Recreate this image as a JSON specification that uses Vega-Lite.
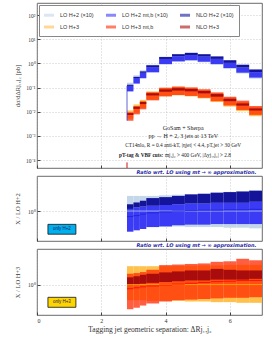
{
  "$schema": "https://vega.github.io/schema/vega-lite/v6.json",
  "padding": {"left": 13, "top": 2, "right": 4, "bottom": 2},
  "background": "white",
  "spacing": 0,
  "resolve": {"scale": {"fill": "independent"}, "legend": {"fill": "independent"}},
  "datasets": {
    "main": [
      {"series": "LO H+2 (×10)", "x0": 2.8, "x1": 3.0, "lo": 0.0784, "hi": 0.159},
      {"series": "LO H+2 (×10)", "x0": 3.0, "x1": 3.2, "lo": 0.1596, "hi": 0.324},
      {"series": "LO H+2 (×10)", "x0": 3.2, "x1": 3.4, "lo": 0.2576, "hi": 0.523},
      {"series": "LO H+2 (×10)", "x0": 3.4, "x1": 3.8, "lo": 0.434, "hi": 0.880},
      {"series": "LO H+2 (×10)", "x0": 3.8, "x1": 4.2, "lo": 0.931, "hi": 1.915},
      {"series": "LO H+2 (×10)", "x0": 4.2, "x1": 4.6, "lo": 1.183, "hi": 2.467},
      {"series": "LO H+2 (×10)", "x0": 4.6, "x1": 5.0, "lo": 1.283, "hi": 2.753},
      {"series": "LO H+2 (×10)", "x0": 5.0, "x1": 5.4, "lo": 1.111, "hi": 2.415},
      {"series": "LO H+2 (×10)", "x0": 5.4, "x1": 5.8, "lo": 0.876, "hi": 1.943},
      {"series": "LO H+2 (×10)", "x0": 5.8, "x1": 6.2, "lo": 0.592, "hi": 1.357},
      {"series": "LO H+2 (×10)", "x0": 6.2, "x1": 6.6, "lo": 0.381, "hi": 0.890},
      {"series": "LO H+2 (×10)", "x0": 6.6, "x1": 7.0, "lo": 0.2345, "hi": 0.567},
      {"series": "LO H+2 mt,b (×10)", "x0": 2.8, "x1": 3.0, "lo": 0.0694, "hi": 0.1176},
      {"series": "LO H+2 mt,b (×10)", "x0": 3.0, "x1": 3.2, "lo": 0.1459, "hi": 0.2485},
      {"series": "LO H+2 mt,b (×10)", "x0": 3.2, "x1": 3.4, "lo": 0.2429, "hi": 0.4085},
      {"series": "LO H+2 mt,b (×10)", "x0": 3.4, "x1": 3.8, "lo": 0.4278, "hi": 0.7006},
      {"series": "LO H+2 mt,b (×10)", "x0": 3.8, "x1": 4.2, "lo": 0.931, "hi": 1.530},
      {"series": "LO H+2 mt,b (×10)", "x0": 4.2, "x1": 4.6, "lo": 1.217, "hi": 1.977},
      {"series": "LO H+2 mt,b (×10)", "x0": 4.6, "x1": 5.0, "lo": 1.358, "hi": 2.213},
      {"series": "LO H+2 mt,b (×10)", "x0": 5.0, "x1": 5.4, "lo": 1.175, "hi": 1.916},
      {"series": "LO H+2 mt,b (×10)", "x0": 5.4, "x1": 5.8, "lo": 0.940, "hi": 1.537},
      {"series": "LO H+2 mt,b (×10)", "x0": 5.8, "x1": 6.2, "lo": 0.644, "hi": 1.053},
      {"series": "LO H+2 mt,b (×10)", "x0": 6.2, "x1": 6.6, "lo": 0.414, "hi": 0.678},
      {"series": "LO H+2 mt,b (×10)", "x0": 6.6, "x1": 7.0, "lo": 0.259, "hi": 0.434},
      {"series": "NLO H+2 (×10)", "x0": 2.8, "x1": 3.0, "lo": 0.1176, "hi": 0.131},
      {"series": "NLO H+2 (×10)", "x0": 3.0, "x1": 3.2, "lo": 0.2485, "hi": 0.278},
      {"series": "NLO H+2 (×10)", "x0": 3.2, "x1": 3.4, "lo": 0.4085, "hi": 0.467},
      {"series": "NLO H+2 (×10)", "x0": 3.4, "x1": 3.8, "lo": 0.7006, "hi": 0.837},
      {"series": "NLO H+2 (×10)", "x0": 3.8, "x1": 4.2, "lo": 1.530, "hi": 1.835},
      {"series": "NLO H+2 (×10)", "x0": 4.2, "x1": 4.6, "lo": 1.977, "hi": 2.400},
      {"series": "NLO H+2 (×10)", "x0": 4.6, "x1": 5.0, "lo": 2.213, "hi": 2.734},
      {"series": "NLO H+2 (×10)", "x0": 5.0, "x1": 5.4, "lo": 1.916, "hi": 2.399},
      {"series": "NLO H+2 (×10)", "x0": 5.4, "x1": 5.8, "lo": 1.537, "hi": 1.943},
      {"series": "NLO H+2 (×10)", "x0": 5.8, "x1": 6.2, "lo": 1.053, "hi": 1.349},
      {"series": "NLO H+2 (×10)", "x0": 6.2, "x1": 6.6, "lo": 0.678, "hi": 0.879},
      {"series": "NLO H+2 (×10)", "x0": 6.6, "x1": 7.0, "lo": 0.434, "hi": 0.560},
      {"series": "LO H+3", "x0": 2.8, "x1": 3.0, "lo": 0.00521, "hi": 0.01131},
      {"series": "LO H+3", "x0": 3.0, "x1": 3.2, "lo": 0.00924, "hi": 0.02006},
      {"series": "LO H+3", "x0": 3.2, "x1": 3.4, "lo": 0.01421, "hi": 0.03086},
      {"series": "LO H+3", "x0": 3.4, "x1": 3.8, "lo": 0.0314, "hi": 0.06916},
      {"series": "LO H+3", "x0": 3.8, "x1": 4.2, "lo": 0.0438, "hi": 0.09652},
      {"series": "LO H+3", "x0": 4.2, "x1": 4.6, "lo": 0.0482, "hi": 0.1069},
      {"series": "LO H+3", "x0": 4.6, "x1": 5.0, "lo": 0.0432, "hi": 0.0978},
      {"series": "LO H+3", "x0": 5.0, "x1": 5.4, "lo": 0.0356, "hi": 0.0812},
      {"series": "LO H+3", "x0": 5.4, "x1": 5.8, "lo": 0.0252, "hi": 0.0583},
      {"series": "LO H+3", "x0": 5.8, "x1": 6.2, "lo": 0.0164, "hi": 0.0382},
      {"series": "LO H+3", "x0": 6.2, "x1": 6.6, "lo": 0.01056, "hi": 0.0251},
      {"series": "LO H+3", "x0": 6.6, "x1": 7.0, "lo": 0.00653, "hi": 0.01554},
      {"series": "LO H+3 mt,b", "x0": 2.8, "x1": 3.0, "lo": 0.00424, "hi": 0.00952},
      {"series": "LO H+3 mt,b", "x0": 3.0, "x1": 3.2, "lo": 0.00779, "hi": 0.01716},
      {"series": "LO H+3 mt,b", "x0": 3.2, "x1": 3.4, "lo": 0.01259, "hi": 0.0270},
      {"series": "LO H+3 mt,b", "x0": 3.4, "x1": 3.8, "lo": 0.02958, "hi": 0.0637},
      {"series": "LO H+3 mt,b", "x0": 3.8, "x1": 4.2, "lo": 0.04318, "hi": 0.0991},
      {"series": "LO H+3 mt,b", "x0": 4.2, "x1": 4.6, "lo": 0.04893, "hi": 0.1104},
      {"series": "LO H+3 mt,b", "x0": 4.6, "x1": 5.0, "lo": 0.04509, "hi": 0.1016},
      {"series": "LO H+3 mt,b", "x0": 5.0, "x1": 5.4, "lo": 0.03773, "hi": 0.0849},
      {"series": "LO H+3 mt,b", "x0": 5.4, "x1": 5.8, "lo": 0.02745, "hi": 0.0632},
      {"series": "LO H+3 mt,b", "x0": 5.8, "x1": 6.2, "lo": 0.01813, "hi": 0.04165},
      {"series": "LO H+3 mt,b", "x0": 6.2, "x1": 6.6, "lo": 0.01184, "hi": 0.0288},
      {"series": "LO H+3 mt,b", "x0": 6.6, "x1": 7.0, "lo": 0.00743, "hi": 0.01723},
      {"series": "NLO H+3", "x0": 2.8, "x1": 3.0, "lo": 0.00737, "hi": 0.00878},
      {"series": "NLO H+3", "x0": 3.0, "x1": 3.2, "lo": 0.0132, "hi": 0.01597},
      {"series": "NLO H+3", "x0": 3.2, "x1": 3.4, "lo": 0.02071, "hi": 0.02538},
      {"series": "NLO H+3", "x0": 3.4, "x1": 3.8, "lo": 0.04732, "hi": 0.05824},
      {"series": "NLO H+3", "x0": 3.8, "x1": 4.2, "lo": 0.06731, "hi": 0.08382},
      {"series": "NLO H+3", "x0": 4.2, "x1": 4.6, "lo": 0.07549, "hi": 0.09437},
      {"series": "NLO H+3", "x0": 4.6, "x1": 5.0, "lo": 0.06985, "hi": 0.08763},
      {"series": "NLO H+3", "x0": 5.0, "x1": 5.4, "lo": 0.05764, "hi": 0.07231},
      {"series": "NLO H+3", "x0": 5.4, "x1": 5.8, "lo": 0.04211, "hi": 0.05377},
      {"series": "NLO H+3", "x0": 5.8, "x1": 6.2, "lo": 0.02744, "hi": 0.0343},
      {"series": "NLO H+3", "x0": 6.2, "x1": 6.6, "lo": 0.01792, "hi": 0.02208},
      {"series": "NLO H+3", "x0": 6.6, "x1": 7.0, "lo": 0.01129, "hi": 0.01366}
    ],
    "r2": [
      {"series": "LO", "x0": 2.8, "x1": 3.0, "lo": 0.70, "hi": 1.42},
      {"series": "LO", "x0": 3.0, "x1": 3.2, "lo": 0.70, "hi": 1.42},
      {"series": "LO", "x0": 3.2, "x1": 3.4, "lo": 0.70, "hi": 1.42},
      {"series": "LO", "x0": 3.4, "x1": 3.8, "lo": 0.70, "hi": 1.42},
      {"series": "LO", "x0": 3.8, "x1": 4.2, "lo": 0.70, "hi": 1.44},
      {"series": "LO", "x0": 4.2, "x1": 4.6, "lo": 0.70, "hi": 1.46},
      {"series": "LO", "x0": 4.6, "x1": 5.0, "lo": 0.69, "hi": 1.48},
      {"series": "LO", "x0": 5.0, "x1": 5.4, "lo": 0.69, "hi": 1.50},
      {"series": "LO", "x0": 5.4, "x1": 5.8, "lo": 0.69, "hi": 1.53},
      {"series": "LO", "x0": 5.8, "x1": 6.2, "lo": 0.68, "hi": 1.56},
      {"series": "LO", "x0": 6.2, "x1": 6.6, "lo": 0.68, "hi": 1.59},
      {"series": "LO", "x0": 6.6, "x1": 7.0, "lo": 0.67, "hi": 1.62},
      {"series": "mt", "x0": 2.8, "x1": 3.0, "lo": 0.62, "hi": 1.05},
      {"series": "mt", "x0": 3.0, "x1": 3.2, "lo": 0.64, "hi": 1.09},
      {"series": "mt", "x0": 3.2, "x1": 3.4, "lo": 0.66, "hi": 1.11},
      {"series": "mt", "x0": 3.4, "x1": 3.8, "lo": 0.69, "hi": 1.13},
      {"series": "mt", "x0": 3.8, "x1": 4.2, "lo": 0.70, "hi": 1.15},
      {"series": "mt", "x0": 4.2, "x1": 4.6, "lo": 0.72, "hi": 1.17},
      {"series": "mt", "x0": 4.6, "x1": 5.0, "lo": 0.73, "hi": 1.19},
      {"series": "mt", "x0": 5.0, "x1": 5.4, "lo": 0.73, "hi": 1.19},
      {"series": "mt", "x0": 5.4, "x1": 5.8, "lo": 0.74, "hi": 1.21},
      {"series": "mt", "x0": 5.8, "x1": 6.2, "lo": 0.74, "hi": 1.21},
      {"series": "mt", "x0": 6.2, "x1": 6.6, "lo": 0.74, "hi": 1.21},
      {"series": "mt", "x0": 6.6, "x1": 7.0, "lo": 0.74, "hi": 1.24},
      {"series": "NLO", "x0": 2.8, "x1": 3.0, "lo": 1.05, "hi": 1.17},
      {"series": "NLO", "x0": 3.0, "x1": 3.2, "lo": 1.09, "hi": 1.22},
      {"series": "NLO", "x0": 3.2, "x1": 3.4, "lo": 1.11, "hi": 1.27},
      {"series": "NLO", "x0": 3.4, "x1": 3.8, "lo": 1.13, "hi": 1.35},
      {"series": "NLO", "x0": 3.8, "x1": 4.2, "lo": 1.15, "hi": 1.38},
      {"series": "NLO", "x0": 4.2, "x1": 4.6, "lo": 1.17, "hi": 1.42},
      {"series": "NLO", "x0": 4.6, "x1": 5.0, "lo": 1.19, "hi": 1.47},
      {"series": "NLO", "x0": 5.0, "x1": 5.4, "lo": 1.19, "hi": 1.49},
      {"series": "NLO", "x0": 5.4, "x1": 5.8, "lo": 1.21, "hi": 1.53},
      {"series": "NLO", "x0": 5.8, "x1": 6.2, "lo": 1.21, "hi": 1.55},
      {"series": "NLO", "x0": 6.2, "x1": 6.6, "lo": 1.21, "hi": 1.57},
      {"series": "NLO", "x0": 6.6, "x1": 7.0, "lo": 1.24, "hi": 1.60}
    ],
    "r2l": [
      {"series": "LO", "x0": 2.8, "x1": 7.0, "v": 1.0},
      {"series": "mt", "x0": 2.8, "x1": 3.0, "v": 0.88},
      {"series": "mt", "x0": 3.0, "x1": 3.2, "v": 0.90},
      {"series": "mt", "x0": 3.2, "x1": 3.4, "v": 0.93},
      {"series": "mt", "x0": 3.4, "x1": 3.8, "v": 0.96},
      {"series": "mt", "x0": 3.8, "x1": 4.2, "v": 0.98},
      {"series": "mt", "x0": 4.2, "x1": 4.6, "v": 1.0},
      {"series": "mt", "x0": 4.6, "x1": 5.0, "v": 1.01},
      {"series": "mt", "x0": 5.0, "x1": 5.4, "v": 1.02},
      {"series": "mt", "x0": 5.4, "x1": 5.8, "v": 1.02},
      {"series": "mt", "x0": 5.8, "x1": 6.2, "v": 1.03},
      {"series": "mt", "x0": 6.2, "x1": 6.6, "v": 1.03},
      {"series": "mt", "x0": 6.6, "x1": 7.0, "v": 1.04}
    ],
    "r3": [
      {"series": "LO", "x0": 2.8, "x1": 3.0, "lo": 0.70, "hi": 1.52},
      {"series": "LO", "x0": 3.0, "x1": 3.2, "lo": 0.70, "hi": 1.52},
      {"series": "LO", "x0": 3.2, "x1": 3.4, "lo": 0.70, "hi": 1.52},
      {"series": "LO", "x0": 3.4, "x1": 3.8, "lo": 0.69, "hi": 1.52},
      {"series": "LO", "x0": 3.8, "x1": 4.2, "lo": 0.69, "hi": 1.52},
      {"series": "LO", "x0": 4.2, "x1": 4.6, "lo": 0.69, "hi": 1.53},
      {"series": "LO", "x0": 4.6, "x1": 5.0, "lo": 0.68, "hi": 1.54},
      {"series": "LO", "x0": 5.0, "x1": 5.4, "lo": 0.68, "hi": 1.55},
      {"series": "LO", "x0": 5.4, "x1": 5.8, "lo": 0.67, "hi": 1.55},
      {"series": "LO", "x0": 5.8, "x1": 6.2, "lo": 0.67, "hi": 1.56},
      {"series": "LO", "x0": 6.2, "x1": 6.6, "lo": 0.66, "hi": 1.57},
      {"series": "LO", "x0": 6.6, "x1": 7.0, "lo": 0.66, "hi": 1.57},
      {"series": "mt", "x0": 2.8, "x1": 3.0, "lo": 0.57, "hi": 1.28},
      {"series": "mt", "x0": 3.0, "x1": 3.2, "lo": 0.59, "hi": 1.30},
      {"series": "mt", "x0": 3.2, "x1": 3.4, "lo": 0.62, "hi": 1.33},
      {"series": "mt", "x0": 3.4, "x1": 3.8, "lo": 0.65, "hi": 1.40},
      {"series": "mt", "x0": 3.8, "x1": 4.2, "lo": 0.68, "hi": 1.56},
      {"series": "mt", "x0": 4.2, "x1": 4.6, "lo": 0.70, "hi": 1.58},
      {"series": "mt", "x0": 4.6, "x1": 5.0, "lo": 0.71, "hi": 1.60},
      {"series": "mt", "x0": 5.0, "x1": 5.4, "lo": 0.72, "hi": 1.62},
      {"series": "mt", "x0": 5.4, "x1": 5.8, "lo": 0.73, "hi": 1.68},
      {"series": "mt", "x0": 5.8, "x1": 6.2, "lo": 0.74, "hi": 1.70},
      {"series": "mt", "x0": 6.2, "x1": 6.6, "lo": 0.74, "hi": 1.80},
      {"series": "mt", "x0": 6.6, "x1": 7.0, "lo": 0.75, "hi": 1.74},
      {"series": "NLO", "x0": 2.8, "x1": 3.0, "lo": 0.99, "hi": 1.18},
      {"series": "NLO", "x0": 3.0, "x1": 3.2, "lo": 1.00, "hi": 1.21},
      {"series": "NLO", "x0": 3.2, "x1": 3.4, "lo": 1.02, "hi": 1.25},
      {"series": "NLO", "x0": 3.4, "x1": 3.8, "lo": 1.04, "hi": 1.28},
      {"series": "NLO", "x0": 3.8, "x1": 4.2, "lo": 1.06, "hi": 1.32},
      {"series": "NLO", "x0": 4.2, "x1": 4.6, "lo": 1.08, "hi": 1.35},
      {"series": "NLO", "x0": 4.6, "x1": 5.0, "lo": 1.10, "hi": 1.38},
      {"series": "NLO", "x0": 5.0, "x1": 5.4, "lo": 1.10, "hi": 1.38},
      {"series": "NLO", "x0": 5.4, "x1": 5.8, "lo": 1.12, "hi": 1.43},
      {"series": "NLO", "x0": 5.8, "x1": 6.2, "lo": 1.12, "hi": 1.40},
      {"series": "NLO", "x0": 6.2, "x1": 6.6, "lo": 1.12, "hi": 1.38},
      {"series": "NLO", "x0": 6.6, "x1": 7.0, "lo": 1.14, "hi": 1.38}
    ],
    "r3l": [
      {"series": "LO", "x0": 2.8, "x1": 7.0, "v": 1.0},
      {"series": "mt", "x0": 2.8, "x1": 3.0, "v": 0.91},
      {"series": "mt", "x0": 3.0, "x1": 3.2, "v": 0.93},
      {"series": "mt", "x0": 3.2, "x1": 3.4, "v": 0.95},
      {"series": "mt", "x0": 3.4, "x1": 3.8, "v": 0.97},
      {"series": "mt", "x0": 3.8, "x1": 4.2, "v": 0.99},
      {"series": "mt", "x0": 4.2, "x1": 4.6, "v": 1.01},
      {"series": "mt", "x0": 4.6, "x1": 5.0, "v": 1.03},
      {"series": "mt", "x0": 5.0, "x1": 5.4, "v": 1.05},
      {"series": "mt", "x0": 5.4, "x1": 5.8, "v": 1.07},
      {"series": "mt", "x0": 5.8, "x1": 6.2, "v": 1.08},
      {"series": "mt", "x0": 6.2, "x1": 6.6, "v": 1.10},
      {"series": "mt", "x0": 6.6, "x1": 7.0, "v": 1.10}
    ]
  },
  "vconcat": [
    {
      "width": 225,
      "height": 165,
      "layer": [
        {
          "data": {"name": "main"},
          "mark": {"type": "rect", "clip": true},
          "encoding": {
            "x": {"field": "x0", "type": "quantitative", "scale": {"domain": [0, 7], "nice": false},
                  "axis": {"values": [0, 1, 2, 3, 4, 5, 6, 7], "labels": false, "title": null, "tickSize": -3}},
            "x2": {"field": "x1"},
            "y": {"field": "lo", "type": "quantitative",
                  "scale": {"type": "log", "domain": [0.000047, 316], "nice": false},
                  "axis": {"values": [0.0001, 0.001, 0.01, 0.1, 1, 10, 100], "tickSize": -3, "labelPadding": 5,
                           "labelExpr": "'10' + ['⁻⁴','⁻³','⁻²','⁻¹','⁰','¹','²'][round(log(datum.value)/LN10)+4]",
                           "title": "dσ/dΔRj₁,j₂  [pb]"}},
            "y2": {"field": "hi"},
            "fill": {"field": "series", "type": "nominal",
                     "scale": {"domain": ["LO H+2 (×10)", "LO H+3", "LO H+2 mt,b (×10)", "LO H+3 mt,b", "NLO H+2 (×10)", "NLO H+3"],
                               "range": ["#c4d6ea", "#ffc04c", "#3b3bf5", "#ff2a00", "#14149a", "#a80c0c"]},
                     "legend": {"orient": "top-left", "offset": 2, "columns": 3, "title": null,
                                "labelFont": "Liberation Sans", "labelFontSize": 5.5, "labelColor": "#333",
                                "symbolType": "M-1,-0.3L1,-0.3L1,0.3L-1,0.3Z", "symbolSize": 100,
                                "symbolOpacity": 0.6, "symbolStrokeWidth": 0,
                                "labelOffset": 6, "columnPadding": 12, "rowPadding": 3, "padding": 5,
                                "strokeColor": "#888", "fillColor": "white"}},
            "fillOpacity": {"condition": {"test": "datum.series === 'LO H+3 mt,b'", "value": 0.75}, "value": 1}
          }
        },
        {
          "data": {"values": [{}]},
          "mark": {"type": "rule", "color": "#3a3ad0", "strokeWidth": 0.8},
          "encoding": {"x": {"datum": 2.8}, "y": {"datum": 0.0043}, "y2": {"datum": 0.118}}
        },
        {
          "data": {"values": [{}]},
          "mark": {"type": "rule", "color": "#d01010", "strokeWidth": 1},
          "encoding": {"x": {"datum": 2.8}, "y": {"datum": 0.000047}, "y2": {"datum": 0.00008}}
        },
        {
          "data": {"values": [{}]},
          "mark": {"type": "text", "text": "GoSam + Sherpa", "font": "Liberation Serif", "fontSize": 6, "color": "#222", "baseline": "middle"},
          "encoding": {"x": {"datum": 4.55}, "y": {"datum": 0.0021}}
        },
        {
          "data": {"values": [{}]},
          "mark": {"type": "text", "text": "pp → H + 2, 3 jets at 13 TeV", "font": "Liberation Serif", "fontSize": 6, "color": "#222", "baseline": "middle"},
          "encoding": {"x": {"datum": 4.55}, "y": {"datum": 0.00098}}
        },
        {
          "data": {"values": [{}]},
          "mark": {"type": "text", "text": "CT14nlo, R = 0.4 anti-kT, |ηjet| < 4.4, pT,jet > 30 GeV", "font": "Liberation Serif", "fontSize": 5.3, "color": "#222", "baseline": "middle"},
          "encoding": {"x": {"datum": 4.55}, "y": {"datum": 0.00043}}
        },
        {
          "data": {"values": [{}]},
          "mark": {"type": "text", "text": "pT-tag & VBF cuts:", "font": "Liberation Serif", "fontSize": 5.3, "fontWeight": "bold", "color": "#222", "baseline": "middle", "align": "right"},
          "encoding": {"x": {"datum": 3.93}, "y": {"datum": 0.000156}}
        },
        {
          "data": {"values": [{}]},
          "mark": {"type": "text", "text": "mj₁j₂ > 400 GeV, |Δyj₁,j₂| > 2.8", "font": "Liberation Serif", "fontSize": 5.3, "color": "#222", "baseline": "middle", "align": "left"},
          "encoding": {"x": {"datum": 3.98}, "y": {"datum": 0.000156}}
        }
      ]
    },
    {
      "width": 225,
      "height": 65,
      "title": {"text": "Ratio wrt. LO using mt → ∞ approximation.", "anchor": "end", "fontSize": 5, "color": "#2a2aa8",
                "fontWeight": "bold", "fontStyle": "italic", "font": "DejaVu Sans", "offset": 1, "dx": -6},
      "layer": [
        {
          "data": {"name": "r2"},
          "mark": {"type": "rect", "clip": true},
          "encoding": {
            "x": {"field": "x0", "type": "quantitative", "scale": {"domain": [0, 7], "nice": false},
                  "axis": {"values": [0, 1, 2, 3, 4, 5, 6, 7], "labels": false, "title": null, "tickSize": -3}},
            "x2": {"field": "x1"},
            "y": {"field": "lo", "type": "quantitative", "scale": {"type": "log", "domain": [0.5, 2.25], "nice": false},
                  "axis": {"values": [1], "labelExpr": "'10⁰'", "tickSize": -3, "labelPadding": 5, "title": "X / LO H+2"}},
            "y2": {"field": "hi"},
            "fill": {"field": "series", "type": "nominal",
                     "scale": {"domain": ["LO", "mt", "NLO"], "range": ["#c4d6ea", "#3b3bf5", "#14149a"]}, "legend": null}
          }
        },
        {
          "data": {"name": "r2l"},
          "transform": [{"filter": "datum.series === 'LO'"}],
          "mark": {"type": "rule", "color": "#b8cce6", "strokeWidth": 0.8},
          "encoding": {"x": {"field": "x0", "type": "quantitative"}, "x2": {"field": "x1"}, "y": {"field": "v", "type": "quantitative"}}
        },
        {
          "data": {"name": "r2l"},
          "transform": [{"filter": "datum.series === 'mt'"}],
          "mark": {"type": "rule", "color": "#1e1ee0", "strokeWidth": 0.8},
          "encoding": {"x": {"field": "x0", "type": "quantitative"}, "x2": {"field": "x1"}, "y": {"field": "v", "type": "quantitative"}}
        },
        {
          "data": {"values": [{}]},
          "mark": {"type": "rect", "fill": "#00b0ee", "stroke": "#111", "strokeWidth": 0.8},
          "encoding": {"x": {"datum": 0.34}, "x2": {"datum": 1.21}, "y": {"datum": 0.585}, "y2": {"datum": 0.735}}
        },
        {
          "data": {"values": [{}]},
          "mark": {"type": "text", "text": "only H+2", "font": "Liberation Sans", "fontSize": 4.5, "color": "#1a1a60", "baseline": "middle"},
          "encoding": {"x": {"datum": 0.775}, "y": {"datum": 0.656}}
        }
      ]
    },
    {
      "width": 225,
      "height": 66,
      "title": {"text": "Ratio wrt. LO using mt → ∞ approximation.", "anchor": "end", "fontSize": 5, "color": "#2a2aa8",
                "fontWeight": "bold", "fontStyle": "italic", "font": "DejaVu Sans", "offset": 1, "dx": -6},
      "layer": [
        {
          "data": {"name": "r3"},
          "mark": {"type": "rect", "clip": true},
          "encoding": {
            "x": {"field": "x0", "type": "quantitative", "scale": {"domain": [0, 7], "nice": false},
                  "axis": {"values": [0, 1, 2, 3, 4, 5, 6, 7], "tickSize": -3, "labelPadding": 5, "labelFontSize": 6,
                           "title": "Tagging jet geometric separation:  ΔRj₁,j₂", "titleFontSize": 7.5, "titlePadding": 2}},
            "x2": {"field": "x1"},
            "y": {"field": "lo", "type": "quantitative", "scale": {"type": "log", "domain": [0.5, 2.25], "nice": false},
                  "axis": {"values": [1], "labelExpr": "'10⁰'", "tickSize": -3, "labelPadding": 5, "title": "X / LO H+3"}},
            "y2": {"field": "hi"},
            "fill": {"field": "series", "type": "nominal",
                     "scale": {"domain": ["LO", "mt", "NLO"], "range": ["#ffc04c", "#ff2a00", "#a80c0c"]}, "legend": null},
            "fillOpacity": {"condition": {"test": "datum.series === 'mt'", "value": 0.75}, "value": 1}
          }
        },
        {
          "data": {"name": "r3l"},
          "transform": [{"filter": "datum.series === 'LO'"}],
          "mark": {"type": "rule", "color": "#ffb000", "strokeWidth": 0.8},
          "encoding": {"x": {"field": "x0", "type": "quantitative"}, "x2": {"field": "x1"}, "y": {"field": "v", "type": "quantitative"}}
        },
        {
          "data": {"name": "r3l"},
          "transform": [{"filter": "datum.series === 'mt'"}],
          "mark": {"type": "rule", "color": "#ff0000", "strokeWidth": 0.8},
          "encoding": {"x": {"field": "x0", "type": "quantitative"}, "x2": {"field": "x1"}, "y": {"field": "v", "type": "quantitative"}}
        },
        {
          "data": {"values": [{}]},
          "mark": {"type": "rect", "fill": "#ffd500", "stroke": "#111", "strokeWidth": 0.8},
          "encoding": {"x": {"datum": 0.34}, "x2": {"datum": 1.21}, "y": {"datum": 0.596}, "y2": {"datum": 0.748}}
        },
        {
          "data": {"values": [{}]},
          "mark": {"type": "text", "text": "only H+3", "font": "Liberation Sans", "fontSize": 4.5, "color": "#1a1a60", "baseline": "middle"},
          "encoding": {"x": {"datum": 0.775}, "y": {"datum": 0.668}}
        }
      ]
    }
  ],
  "config": {
    "view": {"stroke": "#444", "strokeWidth": 0.8},
    "axis": {"labelFont": "Liberation Serif", "titleFont": "Liberation Serif", "labelFontSize": 5.5, "titleFontSize": 6.5,
             "titleFontWeight": "normal", "labelColor": "#333", "titleColor": "#333",
             "gridDash": [1, 2], "gridColor": "#aaa", "gridWidth": 0.6, "domain": false, "tickColor": "#444"},
    "axisY": {"minExtent": 14, "maxExtent": 14, "titlePadding": 3}
  }
}
